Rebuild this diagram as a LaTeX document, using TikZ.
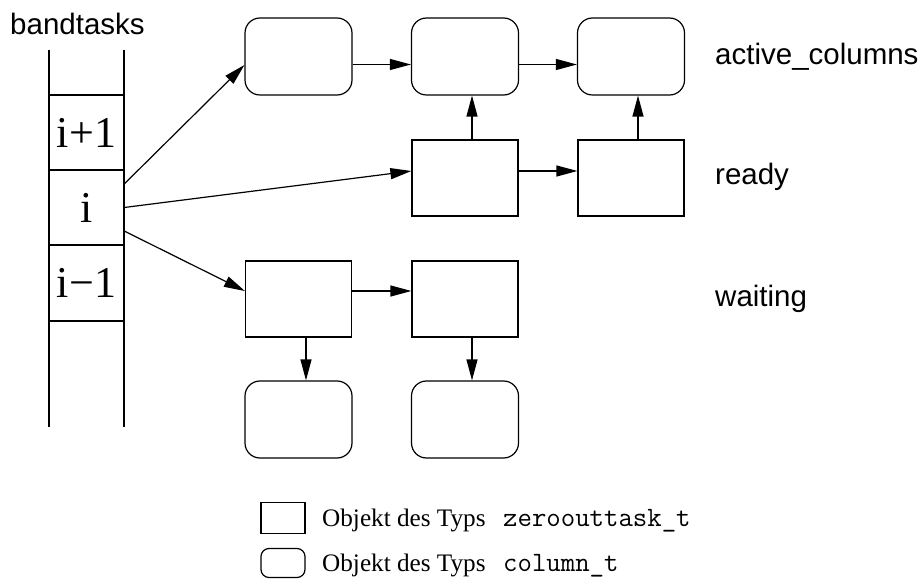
\documentclass[tikz,border=0pt]{standalone}
\usepackage{fontspec}
\setmainfont{Liberation Serif}
\setsansfont{Liberation Sans}
\usetikzlibrary{arrows.meta}

\tikzset{
  lw/.style={line width=1.2pt},
  colbox/.style={lw, draw, rounded corners=15pt, minimum width=107pt, minimum height=77pt, inner sep=0pt},
  taskbox/.style={lw, draw, minimum width=106pt, minimum height=76pt, inner sep=0pt},
  link/.style={lw, -{Triangle[length=21pt,width=11pt]}},
  lbl/.style={font=\sffamily\fontsize{29.5}{32}\selectfont, anchor=base west, inner sep=0pt},
  cell/.style={minimum width=75pt, minimum height=75pt, inner sep=0pt, font=\fontsize{44}{46}\selectfont},
  legtxt/.style={font=\fontsize{25.2}{27}\selectfont, anchor=base west, inner sep=0pt},
  legmono/.style={font=\ttfamily\fontsize{28}{30}\selectfont, anchor=base west, inner sep=0pt},
}

\begin{document}
\begin{tikzpicture}[x=1pt, y=-1pt]
\useasboundingbox (0,0) rectangle (924,580);

% stack of band tasks
\node[lbl] (bt) at (10,35) {bandtasks};
\draw[lw] (49,50) -- (49,427);
\draw[lw] (124,50) -- (124,427);
\foreach \yy in {95,170,245,321} \draw[lw] (49,\yy) -- (124,\yy);
\node[cell] (sp) at (86.5,132.5) {i+1};
\node[cell] (s0) at (86.5,207.5) {i};
\node[cell] (sm) at (86.5,283) {i−1};

% column objects and zero-out tasks
\node[colbox] (c1) at (298.5,56.5) {};
\node[colbox] (c2) at (465,56.5) {};
\node[colbox] (c3) at (631,56.5) {};
\node[taskbox] (r1) at (465,178) {};
\node[taskbox] (r2) at (631,178) {};
\node[taskbox] (w1) at (298.5,299) {};
\node[taskbox] (w2) at (465,299) {};
\node[colbox] (b1) at (298.5,419.5) {};
\node[colbox] (b2) at (465,419.5) {};

% list names
\node[lbl] (la) at (715,65) {active\_columns};
\node[lbl] (lr) at (715,185) {ready};
\node[lbl] (lw) at (715,306) {waiting};

% connectors
\draw[link] ([yshift=23.5pt]s0.east) -- ([yshift=-8.5pt]c1.west);
\draw[link] (s0.east) -- ([yshift=7pt]r1.west);
\draw[link] ([yshift=-23.5pt]s0.east) -- ([yshift=8pt]w1.west);

\draw[link] ([yshift=-8pt]c1.east) -- ([yshift=-8pt]c2.west);
\draw[link] ([yshift=-8pt]c2.east) -- ([yshift=-8pt]c3.west);
\draw[link] ([yshift=7pt]r1.east) -- ([yshift=7pt]r2.west);
\draw[link] ([yshift=8pt]w1.east) -- ([yshift=8pt]w2.west);

\draw[link] ([xshift=7pt]r1.north) -- ([xshift=7pt]c2.south);
\draw[link] ([xshift=7pt]r2.north) -- ([xshift=7pt]c3.south);
\draw[link] ([xshift=7.5pt]w1.south) -- ([xshift=7.5pt]b1.north);
\draw[link] ([xshift=7pt]w2.south) -- ([xshift=7pt]b2.north);

% legend
\node[lw, draw, minimum width=44pt, minimum height=30.5pt, inner sep=0pt] (k1) at (283,518) {};
\node[lw, draw, rounded corners=8pt, minimum width=44pt, minimum height=29pt, inner sep=0pt] (k2) at (283,563) {};
\node[legtxt] (t1) at (322,526.5) {Objekt des Typs};
\node[legmono] (m1) at (503,526.5) {zeroouttask\_t};
\node[legtxt] (t2) at (322,571.5) {Objekt des Typs};
\node[legmono] (m2) at (503,571.5) {column\_t};
\end{tikzpicture}
\end{document}
